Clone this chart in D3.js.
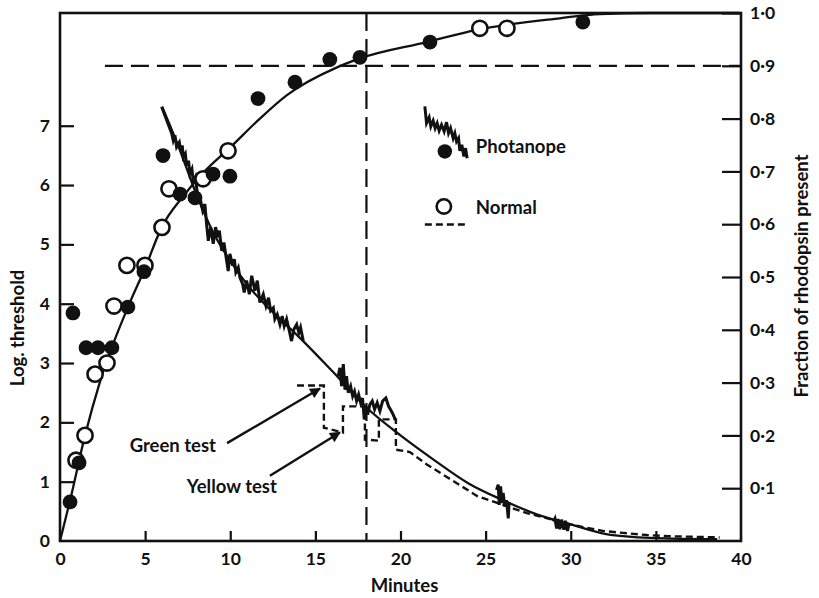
<!DOCTYPE html>
<html>
<head>
<meta charset="utf-8">
<title>Dark adaptation - photanope vs normal</title>
<script src="https://cdnjs.cloudflare.com/ajax/libs/d3/7.8.5/d3.min.js"></script>
<style>
    body { margin: 0; background: #fff; }
    svg text { font-family: "Lato", "Open Sans", sans-serif; font-weight: 700; fill: #111; }
    .axis text { font-size: 17.5px; }
    .axis line { stroke: #111; stroke-width: 2.2px; }
    .axis path { display: none; }
    .frame { fill: none; stroke: #111; stroke-width: 2.6px; }
    .curve { fill: none; stroke: #111; stroke-width: 2.3px; }
    .trace { fill: none; stroke: #111; stroke-width: 3px; stroke-linejoin: miter; }
    .guide { fill: none; stroke: #111; stroke-width: 2.2px; stroke-dasharray: 18, 8; }
    .normal-line { fill: none; stroke: #111; stroke-width: 2.4px; stroke-dasharray: 7, 4; }
    .arrow { stroke: #111; stroke-width: 2.4px; }
    .label { font-size: 18.5px; }
</style>
</head>
<body>
<div id="chart-area"></div>
<script>

// Rhodopsin measurements: [minutes, fraction present]
var photanopeDots = [[0.59, 0.074], [1.12, 0.148], [0.76, 0.432], [1.53, 0.366], [2.23, 0.366], [3.05, 0.366],
    [3.99, 0.443], [4.93, 0.51], [6.05, 0.73], [7.05, 0.657], [7.93, 0.65], [8.99, 0.695], [9.98, 0.691],
    [11.63, 0.838], [13.8, 0.869], [15.85, 0.912], [17.62, 0.916], [21.73, 0.945], [30.71, 0.983]];

var normalDots = [[0.94, 0.153], [1.47, 0.2], [2.06, 0.316], [2.76, 0.337], [3.17, 0.445], [3.93, 0.522],
    [4.99, 0.522], [5.99, 0.594], [6.4, 0.667], [8.4, 0.686], [9.87, 0.739], [24.66, 0.971], [26.25, 0.971]];

// Smooth regeneration curve: [minutes, fraction]
var rhodopsinCurve = [[0, 0], [0.6, 0.078], [1.47, 0.2], [2.35, 0.302], [3.99, 0.443], [5.0, 0.517],
    [5.97, 0.594], [7.24, 0.653], [8.22, 0.691], [10.08, 0.748], [11.74, 0.8], [13.31, 0.844],
    [16.27, 0.897], [17.62, 0.914], [21.55, 0.945], [24.49, 0.968], [29.36, 0.99], [31.7, 0.998],
    [34.6, 1.0], [39.9, 1.0]];

// Smooth threshold curve: [minutes, log threshold]
var thresholdCurve = [[6.0, 7.32], [7.0, 6.62], [8.0, 5.85], [9.0, 5.2], [10.0, 4.72], [11.0, 4.32],
    [12.0, 4.0], [13.0, 3.72], [14.0, 3.45], [16.0, 2.86], [18.0, 2.25], [20.0, 1.78], [22.0, 1.36],
    [24.0, 0.97], [26.0, 0.69], [28.0, 0.45], [30.0, 0.28], [32.0, 0.12], [34.0, 0.06], [36.0, 0.04],
    [38.6, 0.03]];

// Photanope threshold recordings (jagged), [minutes, log threshold]
var traceEarly = [[5.97, 7.32], [6.56, 6.87], [6.65, 6.75], [6.75, 6.84], [6.85, 6.64], [7.01, 6.72], [7.09, 6.58],
    [7.18, 6.67], [7.24, 6.47], [7.36, 6.53], [7.44, 6.33], [7.55, 6.41], [7.63, 6.19], [7.75, 6.27], [7.83, 6.05],
    [7.95, 6.13], [8.06, 5.88], [8.22, 5.79], [8.38, 5.57], [8.51, 5.68], [8.61, 5.34], [8.71, 5.06], [8.85, 5.29],
    [9.0, 5.01], [9.14, 5.29], [9.26, 5.12], [9.36, 5.23], [9.5, 4.89], [9.63, 5.03], [9.79, 4.72], [9.88, 4.55],
    [9.98, 4.84], [10.14, 4.64], [10.24, 4.75], [10.33, 4.53], [10.47, 4.61], [10.57, 4.44], [10.73, 4.33],
    [10.82, 4.19], [10.96, 4.39], [11.12, 4.16], [11.26, 4.47], [11.45, 4.22], [11.59, 4.39], [11.74, 4.02],
    [11.94, 4.16], [12.1, 3.96], [12.25, 4.1], [12.37, 3.88], [12.53, 3.93], [12.62, 3.74], [12.76, 3.82],
    [12.92, 3.65], [13.05, 3.79], [13.17, 3.62], [13.31, 3.74], [13.47, 3.54], [13.6, 3.37], [13.74, 3.57],
    [13.9, 3.65], [14.03, 3.51], [14.13, 3.6], [14.29, 3.37]];
var traceMiddle = [[16.34, 2.78], [16.44, 2.92], [16.54, 2.61], [16.64, 2.98], [16.74, 2.55], [16.83, 2.78],
    [16.93, 2.5], [17.07, 2.61], [17.19, 2.44], [17.3, 2.52], [17.42, 2.36], [17.54, 2.47], [17.66, 2.33],
    [17.77, 2.41], [17.87, 2.05], [17.97, 2.27], [18.07, 2.13], [18.2, 2.3], [18.34, 2.36], [18.48, 2.22],
    [18.63, 2.33], [18.79, 2.19], [18.95, 2.36], [19.14, 2.41], [19.3, 2.27], [19.46, 2.19], [19.57, 2.13],
    [19.69, 2.05]];
var traceLate = [[25.64, 0.86], [25.74, 0.95], [25.8, 0.61], [25.88, 0.92], [25.95, 0.64], [26.03, 0.81],
    [26.13, 0.58], [26.23, 0.69], [26.33, 0.38], [26.38, 0.66]];
var traceEnd = [[28.97, 0.33], [29.07, 0.38], [29.17, 0.21], [29.26, 0.37], [29.36, 0.2], [29.46, 0.36],
    [29.6, 0.19], [29.69, 0.34], [29.81, 0.17], [29.9, 0.3]];

// Normal threshold (dashed), [minutes, log threshold]
var normalThreshold = [[13.92, 2.62], [15.5, 2.62], [15.5, 1.91], [16.62, 1.83], [16.62, 2.27], [17.91, 2.27],
    [17.91, 1.71], [18.73, 1.69], [18.73, 2.05], [19.73, 2.05], [19.73, 1.54], [20.55, 1.5], [21.55, 1.29],
    [22.72, 1.08], [24.49, 0.76], [27.42, 0.47], [30.12, 0.27], [31.88, 0.17], [33.29, 0.13], [34.47, 0.1],
    [35.82, 0.08], [38.75, 0.06]];

// Tick values
var xTicks = [0, 5, 10, 15, 20, 25, 30, 35, 40];
var leftTicks = [0, 1, 2, 3, 4, 5, 6, 7];
var rightTicks = [0.1, 0.2, 0.3, 0.4, 0.5, 0.6, 0.7, 0.8, 0.9, 1.0];

// Reference lines
var regenLevel = 0.9;
var regenLevelStart = 2.64;
var markerMinute = 18;


/*
 * DarkAdaptVis - Object constructor function
 */

DarkAdaptVis = function(_parentElement){
    this.parentElement = _parentElement;
    this.initVis();
};


DarkAdaptVis.prototype.initVis = function(){
    var vis = this;

    vis.margin = { top: 13, right: 78, bottom: 57, left: 60 };

    vis.width = 819 - vis.margin.left - vis.margin.right,
        vis.height = 598 - vis.margin.top - vis.margin.bottom;

    // SVG drawing area
    vis.root = d3.select("#" + vis.parentElement).append("svg")
        .attr("width", 819)
        .attr("height", 598);

    vis.svg = vis.root.append("g")
        .attr("transform", "translate(" + vis.margin.left + "," + vis.margin.top + ")");

    // arrow head for annotations
    vis.root.append("defs").append("marker")
        .attr("id", "arrowhead")
        .attr("viewBox", "0 0 10 10")
        .attr("refX", 9)
        .attr("refY", 5)
        .attr("markerWidth", 5.5)
        .attr("markerHeight", 4.5)
        .attr("orient", "auto")
        .append("path")
        .attr("d", "M0,0L10,5L0,10z")
        .attr("fill", "#111");

    // Scales and axes
    vis.x = d3.scaleLinear()
        .domain([0, 40])
        .range([0, vis.width]);

    vis.yLeft = d3.scaleLinear()
        .domain([0, 8.9])
        .range([vis.height, 0]);

    vis.yRight = d3.scaleLinear()
        .domain([0, 1])
        .range([vis.height, 0]);

    vis.xAxis = d3.axisBottom(vis.x)
        .tickValues(xTicks)
        .tickSizeInner(-10)
        .tickSizeOuter(0)
        .tickPadding(12);

    vis.leftAxis = d3.axisLeft(vis.yLeft)
        .tickValues(leftTicks)
        .tickSizeInner(-14)
        .tickSizeOuter(0)
        .tickPadding(10);

    vis.rightAxis = d3.axisRight(vis.yRight)
        .tickValues(rightTicks)
        .tickSizeInner(-19)
        .tickSizeOuter(0)
        .tickPadding(9)
        .tickFormat(function(d) { return d3.format(".1f")(d).replace(".", "\u00b7"); });

    // line generators
    vis.lineRight = d3.line()
        .x(function(d) { return vis.x(d[0]); })
        .y(function(d) { return vis.yRight(d[1]); })
        .curve(d3.curveMonotoneX);

    vis.lineLeft = d3.line()
        .x(function(d) { return vis.x(d[0]); })
        .y(function(d) { return vis.yLeft(d[1]); })
        .curve(d3.curveMonotoneX);

    vis.traceLine = d3.line()
        .x(function(d) { return vis.x(d[0]); })
        .y(function(d) { return vis.yLeft(d[1]); });

    // Axis titles
    vis.svg.append("text")
        .attr("class", "label")
        .attr("transform", "translate(" + (-42) + "," + (328 - vis.margin.top) + ") rotate(-90)")
        .attr("text-anchor", "middle")
        .attr("dy", "0.35em")
        .text("Log. threshold");

    vis.svg.append("text")
        .attr("class", "label")
        .attr("transform", "translate(" + (vis.width + 61) + "," + (276 - vis.margin.top) + ") rotate(-90)")
        .attr("text-anchor", "middle")
        .attr("dy", "0.35em")
        .text("Fraction of rhodopsin present");

    vis.svg.append("text")
        .attr("class", "label")
        .attr("x", vis.x(20) + 4)
        .attr("y", vis.height + 51)
        .attr("text-anchor", "middle")
        .text("Minutes");

    vis.wrangleData();
};


DarkAdaptVis.prototype.wrangleData = function(){
    var vis = this;

    vis.traces = [traceEarly, traceMiddle, traceLate, traceEnd];

    vis.updateVis();
};


DarkAdaptVis.prototype.updateVis = function(){
    var vis = this;

    // Smooth curves
    vis.svg.append("path")
        .datum(rhodopsinCurve)
        .attr("class", "curve")
        .attr("d", vis.lineRight);

    vis.svg.append("path")
        .datum(thresholdCurve)
        .attr("class", "curve")
        .attr("d", vis.lineLeft);

    // Normal threshold, dashed steps
    vis.svg.append("path")
        .datum(normalThreshold)
        .attr("class", "normal-line")
        .attr("d", vis.traceLine);

    // dashed reference lines (0.9 and 18 min)
    vis.svg.append("line")
        .attr("class", "guide")
        .attr("x1", vis.x(regenLevelStart))
        .attr("x2", vis.x(40))
        .attr("y1", vis.yRight(regenLevel))
        .attr("y2", vis.yRight(regenLevel));

    vis.svg.append("line")
        .attr("class", "guide")
        .attr("x1", vis.x(markerMinute))
        .attr("x2", vis.x(markerMinute))
        .attr("y1", 0)
        .attr("y2", vis.height);

    // jagged photanope records
    vis.svg.selectAll(".trace")
        .data(vis.traces)
        .enter().append("path")
        .attr("class", "trace")
        .attr("d", vis.traceLine);

    // Dots
    vis.svg.selectAll(".dot-normal")
        .data(normalDots)
        .enter().append("circle")
        .attr("class", "dot-normal")
        .attr("cx", function(d) { return vis.x(d[0]); })
        .attr("cy", function(d) { return vis.yRight(d[1]); })
        .attr("r", 7.6)
        .attr("fill", "#fff")
        .attr("stroke", "#111")
        .attr("stroke-width", 2.6);

    vis.svg.selectAll(".dot-photanope")
        .data(photanopeDots)
        .enter().append("circle")
        .attr("class", "dot-photanope")
        .attr("cx", function(d) { return vis.x(d[0]); })
        .attr("cy", function(d) { return vis.yRight(d[1]); })
        .attr("r", 7.4)
        .attr("fill", "#111");

    // Frame
    vis.svg.append("rect")
        .attr("class", "frame")
        .attr("width", vis.width)
        .attr("height", vis.height);

    // Axes
    vis.svg.append("g")
        .attr("class", "x-axis axis")
        .attr("transform", "translate(0," + vis.height + ")")
        .call(vis.xAxis);

    vis.svg.append("g")
        .attr("class", "y-axis axis")
        .call(vis.leftAxis);

    vis.svg.append("g")
        .attr("class", "y-axis-right axis")
        .attr("transform", "translate(" + vis.width + ",0)")
        .call(vis.rightAxis);

    // don't draw the tick at the origin
    vis.svg.selectAll(".y-axis .tick line").filter(function(d) { return d === 0; }).remove();
    vis.svg.selectAll(".x-axis .tick line").filter(function(d) { return d === 0 || d === 40; }).remove();

    // Annotations
    var notes = [
        { text: "Green test", at: [9.16, 1.50], from: [9.81, 1.65], to: [15.27, 2.57] },
        { text: "Yellow test", at: [12.74, 0.81], from: [12.33, 1.10], to: [16.44, 1.83] }
    ];

    notes.forEach(function(n) {
        vis.svg.append("text")
            .attr("class", "label")
            .attr("x", vis.x(n.at[0]))
            .attr("y", vis.yLeft(n.at[1]))
            .attr("text-anchor", "end")
            .text(n.text);

        vis.svg.append("line")
            .attr("class", "arrow")
            .attr("x1", vis.x(n.from[0]))
            .attr("y1", vis.yLeft(n.from[1]))
            .attr("x2", vis.x(n.to[0]))
            .attr("y2", vis.yLeft(n.to[1]))
            .attr("marker-end", "url(#arrowhead)");
    });

    // Legend
    var legendTrace = [[0, 0], [1.7, 16.7], [4.3, 11], [6, 20], [8.3, 14.3], [10.3, 21.7], [12.3, 16.7],
        [14.3, 24.3], [16.7, 18.3], [19.3, 25], [21.7, 15.7], [23.7, 26.7], [25.7, 21.7], [28.3, 31.7],
        [30, 26.7], [31.7, 35], [33.7, 31.7], [35, 44.3], [37, 38.3], [39, 50], [40.7, 41.7], [42.3, 51.7]];

    var legend = vis.svg.append("g")
        .attr("transform", "translate(" + vis.x(21.43) + "," + vis.yRight(0.823) + ")");

    legend.append("path")
        .datum(legendTrace)
        .attr("class", "trace")
        .attr("d", d3.line());

    legend.append("circle")
        .attr("cx", 20).attr("cy", 45).attr("r", 7.2)
        .attr("fill", "#111");

    legend.append("text")
        .attr("class", "label")
        .attr("x", 51).attr("y", 47)
        .text("Photanope");

    legend.append("circle")
        .attr("cx", 19).attr("cy", 100).attr("r", 7.2)
        .attr("fill", "#fff")
        .attr("stroke", "#111")
        .attr("stroke-width", 2.6);

    legend.append("text")
        .attr("class", "label")
        .attr("x", 51).attr("y", 108)
        .text("Normal");

    legend.append("line")
        .attr("class", "normal-line")
        .attr("x1", 0).attr("x2", 43)
        .attr("y1", 118).attr("y2", 118);
};


var darkAdapt = new DarkAdaptVis("chart-area");

</script>
</body>
</html>
